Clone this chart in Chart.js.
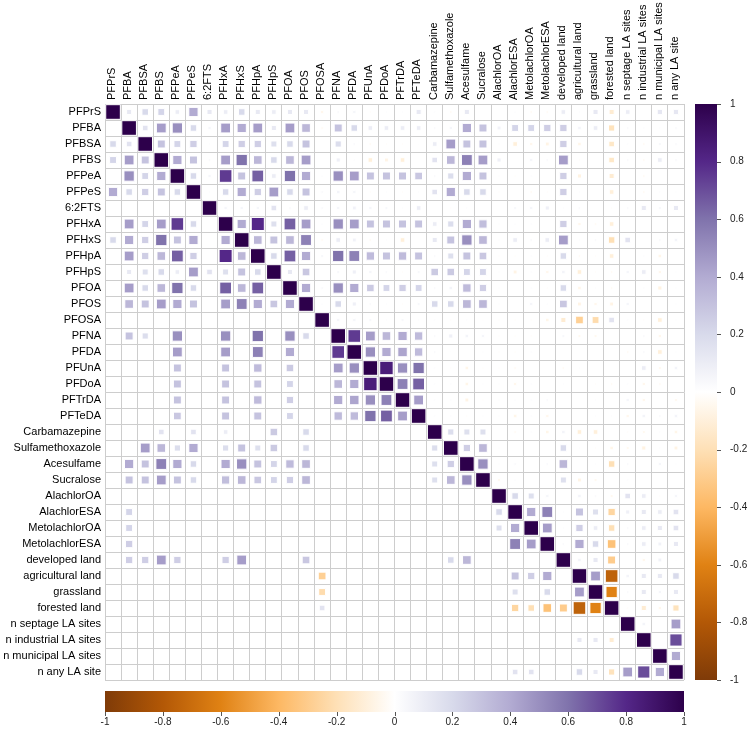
<!DOCTYPE html>
<html>
<head>
<meta charset="utf-8">
<script src="https://cdn.jsdelivr.net/npm/chart.js@4.4.0/dist/chart.umd.min.js"></script>
<style>
  html, body { margin: 0; padding: 0; background: #fff; }
  #wrap { width: 752px; height: 732px; position: relative; }
</style>
</head>
<body>
<div id="wrap"><canvas id="corrChart"></canvas></div>
<script>
// variable names, in plot order
var names = ['PFPrS', 'PFBA', 'PFBSA', 'PFBS', 'PFPeA', 'PFPeS', '6:2FTS', 'PFHxA', 'PFHxS', 'PFHpA',
  'PFHpS', 'PFOA', 'PFOS', 'PFOSA', 'PFNA', 'PFDA', 'PFUnA', 'PFDoA', 'PFTrDA', 'PFTeDA',
  'Carbamazepine', 'Sulfamethoxazole', 'Acesulfame', 'Sucralose', 'AlachlorOA', 'AlachlorESA',
  'MetolachlorOA', 'MetolachlorESA', 'developed land', 'agricultural land', 'grassland',
  'forested land', 'n septage LA sites', 'n industrial LA sites', 'n municipal LA sites', 'n any LA site'];

// correlations right of the diagonal, one row per variable
var rPFPrS = [.12, .2, .22, .1, .4, .12, .1, .2, .12, .1, .12, .12, -.05, .03, .05, -.02, .02, .02, .12, .02, -.03, .12, 0, 0, .02, -.03, -.03, .1, .02, .12, -.12, .1, 0, .13, .13];
var rPFBA = [.15, .45, .5, .2, .05, .45, .4, .45, .12, .45, .35, -.03, .3, .2, .1, .1, .1, .1, .03, .05, .4, .3, .07, .22, .22, .25, .25, .06, .1, -.18, .03, .02, .02, .03];
var rPFBSA = [.3, .22, .25, .02, .22, .25, .25, .17, .2, .3, 0, .18, .03, -.03, -.02, -.02, .01, .1, .45, .3, .3, .02, -.1, -.05, -.07, .25, -.06, 0, -.15, .02, -.03, .04, .03];
var rPFBS = [.4, .3, .03, .45, .6, .35, .2, .35, .45, 0, .08, .02, -.1, -.07, -.1, 0, .15, .35, .55, .45, .08, 0, .05, .03, .45, -.02, 0, -.15, .03, -.03, .1, .03];
var rPFPeA = [.2, .05, .75, .3, .65, .1, .6, .4, .02, .5, .45, .3, .3, .3, .28, .03, .18, .4, .3, .02, -.02, .02, 0, .25, -.08, 0, -.12, 0, -.03, 0, 0];
var rPFPeS = [.02, .2, .4, .25, .45, .2, .3, .03, .06, .05, -.02, .02, -.02, .02, .15, .4, .2, .2, -.02, 0, -.03, -.02, .25, .02, 0, -.1, 0, -.03, .02, .02];
var r62FTS = [.05, .05, .05, .15, .03, .1, .03, .05, .07, .05, .04, .02, .1, 0, -.02, .02, 0, 0, .04, .05, .08, .02, .03, 0, -.02, .03, .12, .04, .12];
var rPFHxA = [.4, .8, .17, .65, .45, .02, .5, .45, .3, .3, .3, .3, .1, .18, .4, .32, .02, .02, .02, 0, .25, -.05, -.03, -.1, 0, 0, 0, 0];
var rPFHxS = [.35, .3, .35, .55, -.03, .1, .07, -.03, .02, -.1, 0, .12, .3, .5, .35, .02, .1, .03, .1, .45, .02, .03, -.2, .15, 0, .03, .06];
var rPFHpA = [.2, .65, .4, .04, .6, .55, .33, .3, .33, .3, .03, .17, .3, .28, -.02, -.02, .02, -.02, .2, -.03, -.02, -.1, 0, .02, -.06, 0];
var rPFHpS = [.12, .28, 0, .04, .08, .05, .03, -.02, .04, .27, .27, .22, .22, .02, -.07, .02, -.05, .06, -.1, -.02, -.03, .05, .1, -.05, .02];
var rPFOA = [.4, .03, .5, .4, .27, .22, .25, .22, .03, .06, .33, .25, .02, 0, .02, -.02, .2, -.06, .02, -.03, 0, .02, -.08, .02];
var rPFOS = [.02, .2, .08, .03, .02, -.02, .04, .2, .2, .35, .35, .02, 0, .05, .02, .28, -.07, -.05, -.07, .05, 0, 0, .02];
var rPFOSA = [.05, .05, .04, .02, .04, .02, .02, -.02, .02, -.01, -.02, -.02, -.02, -.06, -.12, -.28, -.22, .15, .02, -.02, -.1, .02];
var rPFNA = [.75, .45, .35, .4, .33, .03, .08, .06, .05, -.02, -.02, -.02, 0, .04, -.04, -.04, 0, 0, .03, -.05, 0];
var rPFDA = [.5, .4, .42, .33, .03, .01, 0, .02, -.02, -.02, .02, 0, 0, 0, 0, 0, -.03, .03, -.1, .02];
var rPFUnA = [.85, .5, .6, .02, -.02, -.06, -.02, -.02, -.03, 0, 0, -.03, .02, 0, 0, 0, .1, -.04, .06];
var rPFDoA = [.55, .65, .02, .02, -.06, .02, .02, -.05, .02, 0, .02, 0, -.02, -.03, .02, -.05, -.03, 0];
var rPFTrDA = [.45, .02, .02, -.07, -.02, .02, .02, .02, .03, 0, 0, .02, 0, .05, -.05, 0, -.04];
var rPFTeDA = [.02, .02, -.02, .02, .02, -.06, .02, -.05, 0, 0, .02, .02, -.05, .06, .03, .06];
var rCarbamazepine = [.18, .17, .17, 0, -.03, .02, -.06, .06, -.1, -.1, 0, -.02, -.04, .02, -.06];
var rSulfamethoxazole = [.25, .35, .02, 0, 0, 0, .2, .02, -.02, -.06, -.04, -.08, .02, -.07];
var rAcesulfame = [.5, .02, .03, 0, .03, .35, 0, .02, -.2, .03, 0, .05, .02];
var rSucralose = [-.04, .02, 0, 0, .17, -.07, -.04, 0, .02, 0, 0, 0];
var rAlachlorOA = [.2, .17, .05, .01, .06, .03, -.04, .15, .1, -.02, .05];
var rAlachlorESA = [.4, .55, .02, .3, .17, -.25, .08, .12, .1, .15];
var rMetolachlorOA = [.45, .02, .25, .1, -.2, .03, .1, .12, .15];
var rMetolachlorESA = [.03, .4, .2, -.35, .03, .1, .07, .12];
var rDeveloped = [.06, .12, -.3, .01, -.05, .07, .01];
var rAgricultural = [.45, -.75, .06, .12, .12, .2];
var rGrassland = [-.6, .03, .12, .05, .12];
var rForested = [-.02, -.12, -.05, -.18];
var rSeptage = [.06, 0, .45];
var rIndustrial = [0, .7];
var rMunicipal = [.4];
var rAnyLA = [];

var upperRows = [rPFPrS, rPFBA, rPFBSA, rPFBS, rPFPeA, rPFPeS, r62FTS, rPFHxA, rPFHxS, rPFHpA,
  rPFHpS, rPFOA, rPFOS, rPFOSA, rPFNA, rPFDA, rPFUnA, rPFDoA, rPFTrDA, rPFTeDA,
  rCarbamazepine, rSulfamethoxazole, rAcesulfame, rSucralose, rAlachlorOA, rAlachlorESA,
  rMetolachlorOA, rMetolachlorESA, rDeveloped, rAgricultural, rGrassland, rForested,
  rSeptage, rIndustrial, rMunicipal, rAnyLA];

// below the diagonal only significant pairs are shown (column indices per row)
var shownBelow = [
  [], [], [0, 1], [0, 1, 2], [1, 2, 3], [0, 1, 2, 3, 4], [], [1, 2, 3, 4, 5],
  [0, 1, 2, 3, 4, 5, 7], [1, 2, 3, 4, 5, 7, 8], [1, 2, 3, 4, 5, 6, 7, 8, 9],
  [1, 2, 3, 4, 5, 7, 8, 9], [1, 2, 3, 4, 5, 7, 8, 9, 10, 11], [],
  [1, 2, 4, 7, 9, 11, 12], [4, 7, 9, 11, 14], [4, 7, 9, 11, 14, 15],
  [4, 7, 9, 11, 14, 15, 16], [4, 7, 9, 11, 14, 15, 16, 17], [4, 7, 9, 11, 14, 15, 16, 17, 18],
  [3, 5, 7, 10, 12], [2, 3, 4, 5, 7, 8, 9, 10, 12, 20],
  [1, 2, 3, 4, 5, 7, 8, 9, 10, 11, 12, 20, 21], [1, 2, 3, 4, 5, 7, 8, 9, 10, 11, 12, 20, 21, 22],
  [], [1, 24], [1, 24, 25], [1, 25, 26], [1, 2, 3, 4, 7, 8, 12, 21, 22],
  [13, 25, 26, 27], [13, 25, 27, 29], [13, 25, 26, 27, 28, 29, 30], [], [29, 30, 31], [],
  [25, 26, 29, 30, 31, 32, 33, 34]
];

var cbTicks = [-1, -0.8, -0.6, -0.4, -0.2, 0, 0.2, 0.4, 0.6, 0.8, 1];
// PuOr, from -1 to 1
var palette = ['#7F3B08', '#B35806', '#E08214', '#FDB863', '#FEE0B6', '#FFFFFF',
  '#D8DAEB', '#B2ABD2', '#8073AC', '#542788', '#2D004B'];

function corr(i, j) {
  if (i == j) return 1;
  if (i > j) { var t = i; i = j; j = t; }
  return upperRows[i][j - i - 1];
}

function hex2rgb(h) {
  return [parseInt(h.substr(1, 2), 16), parseInt(h.substr(3, 2), 16), parseInt(h.substr(5, 2), 16)];
}
function colorFor(v) {
  var p = (v + 1) / 2 * (palette.length - 1);
  var k = Math.min(Math.floor(p), palette.length - 2);
  var f = p - k;
  var a = hex2rgb(palette[k]), b = hex2rgb(palette[k + 1]);
  return 'rgb(' + [0, 1, 2].map(function (n) { return Math.round(a[n] + (b[n] - a[n]) * f); }).join(',') + ')';
}

var points = [];
for (var i = 0; i < names.length; i++) {
  for (var j = 0; j < names.length; j++) {
    if (i > j && shownBelow[i].indexOf(j) < 0) continue;
    var v = corr(i, j);
    if (!v) continue;
    points.push({ x: names[j], y: names[i], v: v });
  }
}

// square side grows with sqrt(|r|); 'rect' side = 2 * r * SQRT1_2
function radiusFor(v) {
  return 14.6 * Math.sqrt(Math.abs(v)) / (2 * Math.SQRT1_2);
}

var labelFont = { family: 'Liberation Sans', size: 11 };
var gridGrey = '#cdcdcd';

var colorbars = {
  id: 'colorbars',
  afterDraw: function (chart) {
    var ctx = chart.ctx;
    var sy = chart.scales.cbY, sx = chart.scales.cbX;
    ctx.save();
    // right bar
    var x0 = sy.left + 11, w = 22;
    var yTop = sy.getPixelForValue(1), yBot = sy.getPixelForValue(-1);
    var g = ctx.createLinearGradient(0, yBot, 0, yTop);
    palette.forEach(function (c, k) { g.addColorStop(k / (palette.length - 1), c); });
    ctx.fillStyle = g;
    ctx.fillRect(x0, yTop, w, yBot - yTop);
    ctx.strokeStyle = '#555';
    ctx.lineWidth = 1;
    cbTicks.forEach(function (t) {
      var y = Math.round(sy.getPixelForValue(t)) + 0.5;
      ctx.beginPath(); ctx.moveTo(x0 + w, y); ctx.lineTo(x0 + w + 4, y); ctx.stroke();
    });
    // bottom bar
    var y0 = sx.top + 11, h = 21;
    var xl = sx.getPixelForValue(-1), xr = sx.getPixelForValue(1);
    var g2 = ctx.createLinearGradient(xl, 0, xr, 0);
    palette.forEach(function (c, k) { g2.addColorStop(k / (palette.length - 1), c); });
    ctx.fillStyle = g2;
    ctx.fillRect(xl, y0, xr - xl, h);
    cbTicks.forEach(function (t) {
      var x = Math.round(sx.getPixelForValue(t)) + 0.5;
      ctx.beginPath(); ctx.moveTo(x, y0 + h); ctx.lineTo(x, y0 + h + 4); ctx.stroke();
    });
    ctx.restore();
  }
};

function cbLabel(v) { return String(Math.round(v * 10) / 10); }

new Chart(document.getElementById('corrChart'), {
  type: 'scatter',
  data: {
    datasets: [{
      data: points,
      xAxisID: 'x',
      yAxisID: 'y',
      pointStyle: 'rect',
      pointRadius: function (c) { return c.raw ? radiusFor(c.raw.v) : 0; },
      pointHoverRadius: function (c) { return c.raw ? radiusFor(c.raw.v) : 0; },
      pointBackgroundColor: function (c) { return c.raw ? colorFor(c.raw.v) : '#fff'; },
      pointBorderColor: '#ffffff',
      pointBorderWidth: 1,
      pointHoverBorderWidth: 1
    }]
  },
  options: {
    responsive: true,
    maintainAspectRatio: false,
    animation: false,
    events: [],
    layout: { padding: 0 },
    plugins: { legend: { display: false }, tooltip: { enabled: false } },
    scales: {
      x: {
        type: 'category', labels: names, position: 'top', offset: true,
        grid: { offset: true, color: gridGrey, drawTicks: false },
        border: { color: gridGrey },
        ticks: { autoSkip: false, minRotation: 90, maxRotation: 90, padding: 4, labelOffset: 12, color: '#000', font: labelFont },
        afterFit: function (s) { s.height = 104; }
      },
      y: {
        type: 'category', labels: names, position: 'left', offset: true,
        grid: { offset: true, color: gridGrey, drawTicks: false },
        border: { color: gridGrey },
        ticks: { autoSkip: false, padding: 4, color: '#000', font: labelFont },
        afterFit: function (s) { s.width = 105; }
      },
      cbY: {
        type: 'linear', axis: 'y', position: 'right', min: -1, max: 1,
        grid: { display: false, drawTicks: false },
        border: { display: false },
        ticks: { stepSize: 0.2, padding: 46, color: '#222', font: { family: 'Liberation Sans', size: 10 }, callback: cbLabel },
        afterFit: function (s) { s.width = 68; }
      },
      cbX: {
        type: 'linear', axis: 'x', position: 'bottom', min: -1, max: 1,
        grid: { display: false, drawTicks: false },
        border: { display: false },
        ticks: { stepSize: 0.2, padding: 36, maxRotation: 0, autoSkip: false, color: '#222', font: { family: 'Liberation Sans', size: 10 }, callback: cbLabel },
        afterFit: function (s) { s.height = 51; }
      }
    }
  },
  plugins: [colorbars]
});
</script>
</body>
</html>
